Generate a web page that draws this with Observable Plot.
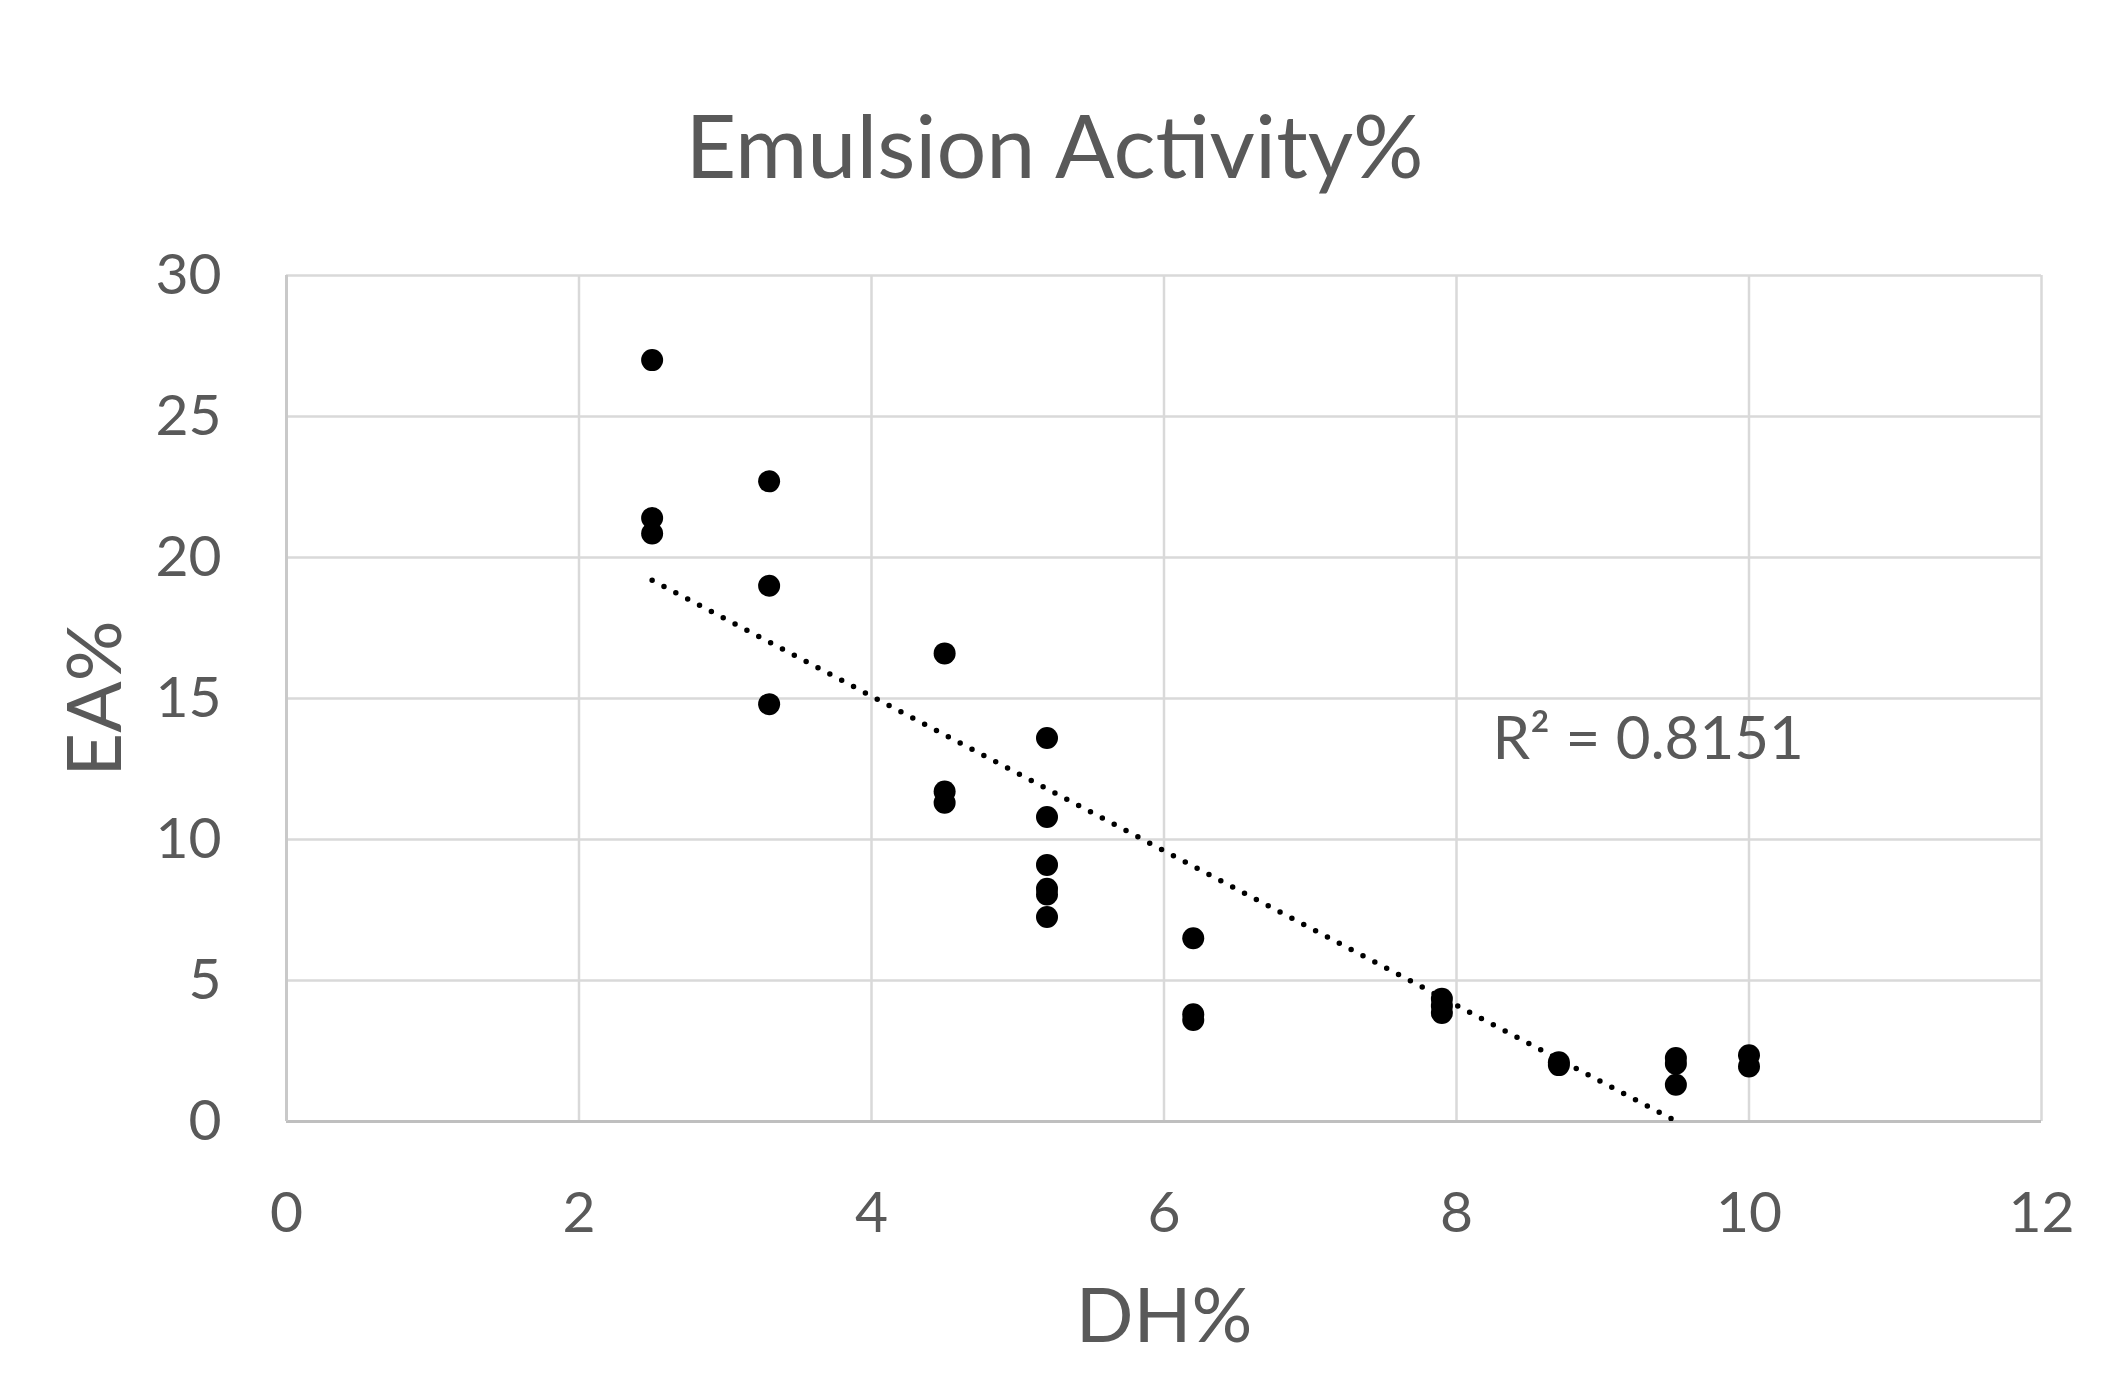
<!DOCTYPE html>
<html>
<head>
<meta charset="utf-8">
<script src="https://cdn.jsdelivr.net/npm/d3@7"></script>
<script src="https://cdn.jsdelivr.net/npm/@observablehq/plot@0.6"></script>
<style>
  html, body { margin: 0; padding: 0; background: #fff; }
  #title {
    box-sizing: border-box; width: 2125px; height: 220px; padding-top: 92px;
    font-family: Lato, sans-serif; font-size: 88px; line-height: 1.2;
    color: #595959; text-align: center; text-indent: -16px;
  }
  #chart svg { display: block; }
</style>
</head>
<body>
<div id="title">Emulsion Activity%</div>
<div id="chart"></div>
<script>
// Data
const dh = [2.5, 2.5, 2.5,
            3.3, 3.3, 3.3,
            4.5, 4.5, 4.5,
            5.2, 5.2, 5.2, 5.2, 5.2, 5.2,
            6.2, 6.2, 6.2,
            7.9, 7.9, 7.9,
            8.7, 8.7,
            9.5, 9.5, 9.5,
            10, 10];
const ea = [27.0, 21.4, 20.85,
            22.7, 19.0, 14.8,
            16.6, 11.7, 11.3,
            13.6, 10.8, 9.1, 8.25, 8.05, 7.25,
            6.5, 3.8, 3.6,
            4.35, 4.1, 3.85,
            2.1, 2.0,
            2.25, 2.05, 1.3,
            2.35, 1.95];
const xTicks = [0, 2, 4, 6, 8, 10, 12];
const yTicks = [0, 5, 10, 15, 20, 25, 30];
const xTitle = "DH%";
const yTitle = "EA%";
const r2Label = "R² = 0.8151";

const points = dh.map((d, i) => ({dh: d, ea: ea[i]}));

const textColor = "#595959";
const chart = Plot.plot({
  width: 2125,
  height: 1158,
  marginTop: 55,
  marginBottom: 257,
  marginLeft: 286,
  marginRight: 84,
  style: {fontFamily: "Lato, sans-serif", color: textColor, background: "#fff"},
  x: {domain: [0, 12]},
  y: {domain: [0, 30]},
  marks: [
    Plot.gridX(xTicks, {stroke: "#d9d9d9", strokeOpacity: 1, strokeWidth: 2.5}),
    Plot.gridY(yTicks, {stroke: "#d9d9d9", strokeOpacity: 1, strokeWidth: 2.5}),
    Plot.ruleY([0], {stroke: "#bfbfbf", strokeWidth: 3}),
    Plot.ruleX([0], {stroke: "#c9c9c9", strokeWidth: 3}),
    Plot.axisX(xTicks, {tickSize: 0, tickPadding: 70, fontSize: 57, label: null, fill: textColor, tickFormat: d => String(d)}),
    Plot.axisY(yTicks, {tickSize: 0, tickPadding: 65, fontSize: 57, label: null, fill: textColor, tickFormat: d => String(d)}),
    Plot.linearRegressionY(points, {
      x: "dh", y: "ea", ci: 0, stroke: "black", strokeWidth: 5.5,
      strokeDasharray: "0 13.4", strokeLinecap: "round", clip: true
    }),
    Plot.dot(points, {x: "dh", y: "ea", r: 11, fill: "black", stroke: "none"}),
    Plot.text([r2Label], {
      frameAnchor: "top-left", dx: 1492 - 286, dy: 758 - 275,
      textAnchor: "start", lineAnchor: "bottom", fontSize: 60, fill: textColor
    }),
    Plot.text([xTitle], {
      frameAnchor: "bottom", dy: 196, textAnchor: "middle", lineAnchor: "middle",
      fontSize: 76, fill: textColor
    }),
    Plot.text([yTitle], {
      frameAnchor: "left", dx: -190, rotate: -90, textAnchor: "middle", lineAnchor: "middle",
      fontSize: 76, fill: textColor
    })
  ]
});
document.getElementById("chart").appendChild(chart);
</script>
</body>
</html>
